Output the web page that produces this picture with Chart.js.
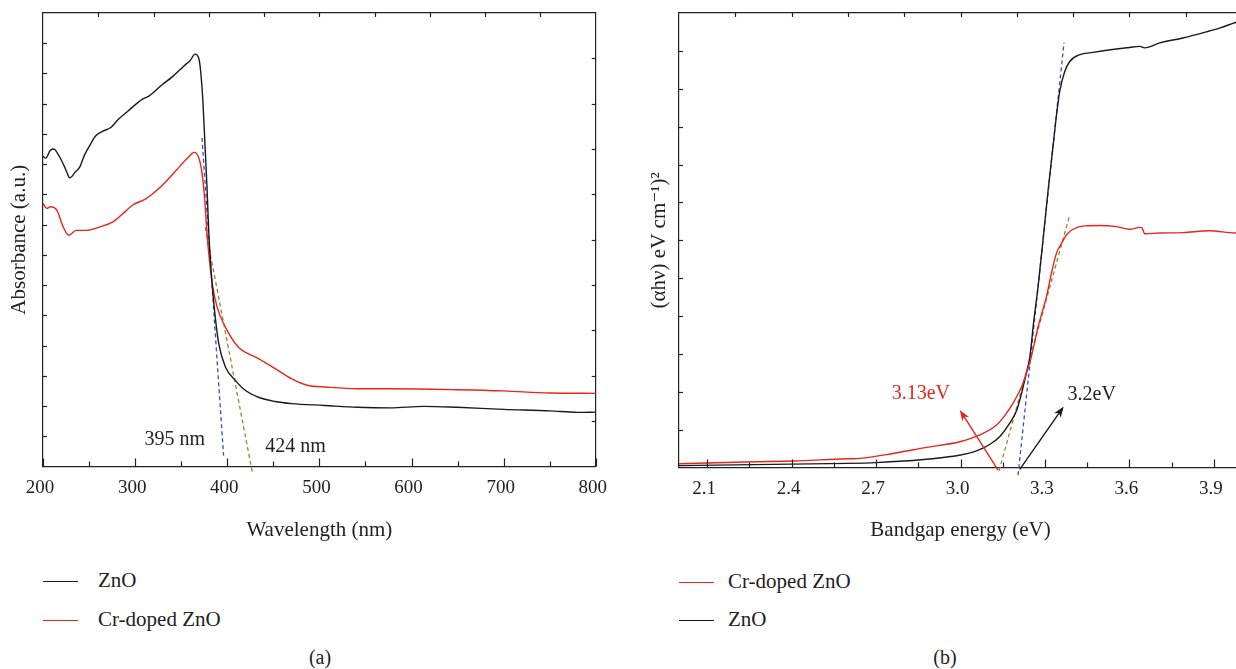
<!DOCTYPE html>
<html>
<head>
<meta charset="utf-8">
<script src="https://cdn.jsdelivr.net/npm/chart.js@4"></script>
<style>
  body { margin: 0; width: 1236px; height: 669px; overflow: hidden; background: #fff; position: relative;
         font-family: "Liberation Serif", "DejaVu Serif", serif; color: #222; }
  .panel { position: absolute; top: 0; }
  .ln { position: absolute; height: 0; width: 35px; border-top: 1.4px solid; }
  .txt { position: absolute; font-size: 21px; line-height: 24px; white-space: nowrap; }
  .cap { position: absolute; width: 40px; text-align: center; font-size: 20px; line-height: 24px; }
</style>
</head>
<body>
<div class="panel" style="left:0"><canvas id="chartA" width="620" height="547"></canvas></div>
<div class="panel" style="left:640px"><canvas id="chartB" width="622" height="547"></canvas></div>

<!-- legends -->
<div class="ln" style="left:43px; top:581px; border-color:#1a1a1a"></div>
<div class="txt" style="left:98px; top:568px">ZnO</div>
<div class="ln" style="left:43px; top:620px; border-color:#e8251b"></div>
<div class="txt" style="left:98px; top:607px">Cr-doped ZnO</div>

<div class="ln" style="left:679px; top:582px; border-color:#e8251b"></div>
<div class="txt" style="left:728px; top:569px">Cr-doped ZnO</div>
<div class="ln" style="left:679px; top:620px; border-color:#1a1a1a"></div>
<div class="txt" style="left:728px; top:607px">ZnO</div>

<div class="cap" style="left:300px; top:645px">(a)</div>
<div class="cap" style="left:925px; top:645px">(b)</div>

<script>
const FONT = '"Liberation Serif", "DejaVu Serif", serif';
const BLACK = '#1a1a1a';
const RED = '#e8251b';
const BLUE = '#3a4cc4';
const OLIVE = '#8c8a2e';

// ---- panel (a): absorbance vs wavelength ----
const wavelengthZnO = [200, 203, 208, 212, 215, 220, 225, 229, 235, 240, 245, 251, 257, 265, 274, 281, 292, 308, 315, 329, 340, 353, 360, 365, 369, 371, 373.5, 375.6, 378, 380, 383.5, 387, 390.7, 398, 408.7, 419.5, 433.8, 451.8, 469.7, 505.7, 541.6, 577, 613.4, 649, 700, 750, 780, 800];
const absZnO = [10.26, 10.20, 10.46, 10.50, 10.40, 10.13, 9.80, 9.55, 9.74, 9.91, 10.30, 10.63, 10.93, 11.09, 11.22, 11.46, 11.75, 12.15, 12.25, 12.62, 12.88, 13.25, 13.44, 13.64, 13.51, 13.11, 12.12, 10.79, 9.25, 7.72, 6.06, 4.94, 4.07, 3.29, 2.85, 2.52, 2.29, 2.15, 2.08, 2.02, 1.96, 1.94, 1.99, 1.96, 1.89, 1.84, 1.79, 1.80];
const wavelengthCr = [200, 204, 208, 215, 222, 228, 236, 247, 261, 276, 287, 297, 312, 326, 340, 348, 358, 364, 369, 372.7, 375.6, 378, 380.7, 384.3, 389, 398, 412, 434, 452, 470, 488, 506, 542, 578, 649, 700, 750, 800];
const absCr = [8.70, 8.54, 8.59, 8.48, 7.92, 7.65, 7.81, 7.81, 7.92, 8.09, 8.37, 8.64, 8.86, 9.20, 9.64, 9.91, 10.24, 10.39, 10.22, 9.69, 8.81, 7.71, 6.82, 5.94, 5.27, 4.61, 3.95, 3.57, 3.24, 2.90, 2.68, 2.63, 2.57, 2.57, 2.54, 2.50, 2.43, 2.42];
// tangent (extrapolation) lines
const fitZnOX = [372.6, 396];
const fitZnOY = [10.87, 0.36];
const fitCrX = [376, 427.4];
const fitCrY = [7.92, -0.22];

const ticksAX = [200, 300, 400, 500, 600, 700, 800];
const minorAX = [250, 350, 450, 550, 650, 750];
const ticksAY = [1, 2, 3, 4, 5, 6, 7, 8, 9, 10, 11, 12, 13, 14];
const ticksAMirror = [1, 2, 3, 4, 5, 6, 7, 8, 9];

// ---- panel (b): Tauc plot ----
const energyZnO = [2.0, 2.2, 2.4, 2.6, 2.7, 2.8, 2.9, 3.0, 3.05, 3.08, 3.11, 3.14, 3.175, 3.2, 3.217, 3.231, 3.246, 3.26, 3.276, 3.293, 3.311, 3.329, 3.341, 3.353, 3.37, 3.388, 3.424, 3.471, 3.554, 3.60, 3.637, 3.654, 3.708, 3.79, 3.873, 3.92, 3.977, 4.0];
const tauZnO = [0.05, 0.07, 0.09, 0.11, 0.13, 0.17, 0.23, 0.33, 0.42, 0.51, 0.64, 0.82, 1.17, 1.52, 1.96, 2.40, 2.90, 3.85, 4.80, 6.00, 7.30, 8.50, 9.30, 9.95, 10.45, 10.72, 10.90, 10.96, 11.05, 11.09, 11.12, 11.08, 11.21, 11.34, 11.50, 11.60, 11.75, 11.80];
const energyCr = [2.0, 2.2, 2.4, 2.5, 2.6, 2.643, 2.761, 2.879, 2.998, 3.069, 3.128, 3.163, 3.193, 3.217, 3.234, 3.249, 3.26, 3.275, 3.29, 3.305, 3.323, 3.341, 3.359, 3.376, 3.40, 3.441, 3.495, 3.554, 3.601, 3.637, 3.645, 3.654, 3.708, 3.79, 3.885, 3.977, 4.0];
const tauCr = [0.10, 0.14, 0.17, 0.20, 0.23, 0.24, 0.37, 0.53, 0.68, 0.86, 1.12, 1.43, 1.78, 2.13, 2.49, 2.84, 3.20, 3.70, 4.10, 4.50, 5.13, 5.66, 5.92, 6.14, 6.29, 6.38, 6.39, 6.36, 6.29, 6.34, 6.33, 6.17, 6.19, 6.20, 6.25, 6.19, 6.20];
const fitZnOBX = [3.2045, 3.3677];
const fitZnOBY = [-0.2, 11.22];
const fitCrBX = [3.137, 3.388];
const fitCrBY = [-0.09, 6.67];
const arrowCrX = [3.1335, 2.9975];
const arrowCrY = [-0.07, 1.52];
const arrowZnOX = [3.2105, 3.3667];
const arrowZnOY = [-0.05, 1.61];

const ticksBX = [2.1, 2.4, 2.7, 3.0, 3.3, 3.6, 3.9];
const minorBX = [2.25, 2.55, 2.85, 3.15, 3.45, 3.75];
const ticksBY = [1, 2, 3, 4, 5, 6, 7, 8, 9, 10, 11];
const ticksBTop = [2.2, 2.4, 2.6, 2.8, 3.0, 3.2, 3.4, 3.6, 3.8];

function pts(xs, ys) {
    return xs.map((x, i) => ({ x: x, y: ys[i] }));
}

function curve(label, xs, ys, color) {
    return { label: label, data: pts(xs, ys), borderColor: color, borderWidth: 1.4,
             pointRadius: 0, fill: false, cubicInterpolationMode: 'monotone' };
}

function dashed(xs, ys, color) {
    return { label: '', data: pts(xs, ys), borderColor: color, borderWidth: 1.3,
             borderDash: [4, 3], pointRadius: 0, fill: false, clip: false };
}

// inward tick marks + text notes + arrows
const decor = {
    id: 'decor',
    afterDatasetsDraw(chart, args, opts) {
        const ctx = chart.ctx;
        const a = chart.chartArea;
        ctx.save();
        ctx.strokeStyle = '#222';
        ctx.lineWidth = 1.2;
        (opts.marks || []).forEach(m => {
            const s = chart.scales[m.axis];
            m.values.forEach(v => {
                const p = Math.round(s.getPixelForValue(v)) + 0.5;
                ctx.beginPath();
                if (m.side === 'bottom') { ctx.moveTo(p, a.bottom); ctx.lineTo(p, a.bottom - m.len); }
                if (m.side === 'top') { ctx.moveTo(p, a.top); ctx.lineTo(p, a.top + m.len); }
                if (m.side === 'left') { ctx.moveTo(a.left, p); ctx.lineTo(a.left + m.len, p); }
                if (m.side === 'right') { ctx.moveTo(a.right, p); ctx.lineTo(a.right - m.len, p); }
                ctx.stroke();
            });
        });
        const xs = chart.scales.x, ys = chart.scales.y;
        (opts.arrows || []).forEach(ar => {
            const x0 = xs.getPixelForValue(ar.xs[0]), y0 = ys.getPixelForValue(ar.ys[0]);
            const x1 = xs.getPixelForValue(ar.xs[1]), y1 = ys.getPixelForValue(ar.ys[1]);
            const ang = Math.atan2(y1 - y0, x1 - x0);
            ctx.strokeStyle = ar.color;
            ctx.fillStyle = ar.color;
            ctx.lineWidth = 1.4;
            ctx.beginPath();
            ctx.moveTo(x0, y0);
            ctx.lineTo(x1 - 6 * Math.cos(ang), y1 - 6 * Math.sin(ang));
            ctx.stroke();
            ctx.beginPath();
            ctx.moveTo(x1, y1);
            ctx.lineTo(x1 - 11 * Math.cos(ang) + 4 * Math.sin(ang), y1 - 11 * Math.sin(ang) - 4 * Math.cos(ang));
            ctx.lineTo(x1 - 8 * Math.cos(ang), y1 - 8 * Math.sin(ang));
            ctx.lineTo(x1 - 11 * Math.cos(ang) - 4 * Math.sin(ang), y1 - 11 * Math.sin(ang) + 4 * Math.cos(ang));
            ctx.closePath();
            ctx.fill();
        });
        ctx.font = '20px ' + FONT;
        ctx.textAlign = 'center';
        ctx.textBaseline = 'middle';
        (opts.notes || []).forEach(n => {
            ctx.fillStyle = n.color;
            ctx.fillText(n.text, xs.getPixelForValue(n.x), ys.getPixelForValue(n.y));
        });
        ctx.restore();
    }
};

function frame(extra) {
    return Object.assign({
        ticks: { display: false },
        grid: { display: false, drawTicks: false, tickLength: 0 },
        border: { display: true, color: '#222', width: 1.2 }
    }, extra);
}

// panel (a)
new Chart(document.getElementById('chartA'), {
    type: 'line',
    data: {
        datasets: [
            curve('ZnO', wavelengthZnO, absZnO, BLACK),
            curve('Cr-doped ZnO', wavelengthCr, absCr, RED),
            dashed(fitZnOX, fitZnOY, BLUE),
            dashed(fitCrX, fitCrY, OLIVE)
        ]
    },
    options: {
        responsive: false,
        animation: false,
        layout: { padding: { left: 3, top: 13, right: 20.7, bottom: 0 } },
        plugins: {
            legend: { display: false },
            tooltip: { enabled: false },
            decor: {
                marks: [
                    { axis: 'x', side: 'bottom', values: ticksAX, len: 8 },
                    { axis: 'x', side: 'bottom', values: minorAX, len: 5 },
                    { axis: 'y', side: 'left', values: ticksAY, len: 4 },
                    { axis: 'x2', side: 'top', values: ticksAMirror, len: 4 },
                    { axis: 'y2', side: 'right', values: ticksAMirror, len: 4 }
                ],
                notes: [
                    { text: '395 nm', x: 343, y: 0.88, color: '#222' },
                    { text: '424 nm', x: 474, y: 0.65, color: '#222' }
                ]
            }
        },
        scales: {
            x: {
                type: 'linear', position: 'bottom', min: 200, max: 800,
                afterBuildTicks: s => { s.ticks = ticksAX.map(v => ({ value: v })); },
                ticks: { font: { family: FONT, size: 19 }, color: '#222', padding: 10, labelOffset: -3, maxRotation: 0, autoSkip: false },
                grid: { display: false, drawTicks: false, tickLength: 0 },
                border: { display: true, color: '#222', width: 1.2 },
                title: { display: true, text: 'Wavelength (nm)', font: { family: FONT, size: 21 }, color: '#222', padding: { top: 0, bottom: 4 } },
                afterFit: s => { s.height = 80.5; }
            },
            y: frame({
                type: 'linear', position: 'left', min: 0, max: 15,
                title: { display: true, text: 'Absorbance (a.u.)', font: { family: FONT, size: 21 }, color: '#222', padding: { top: 4, bottom: 0 } },
                afterFit: s => { s.width = 40; }
            }),
            x2: frame({ type: 'linear', position: 'top', min: 0, max: 10, afterFit: s => { s.height = 0; } }),
            y2: frame({ type: 'linear', position: 'right', min: 0, max: 10, afterFit: s => { s.width = 0; } })
        }
    },
    plugins: [decor]
});

// panel (b)
new Chart(document.getElementById('chartB'), {
    type: 'line',
    data: {
        datasets: [
            curve('Cr-doped ZnO', energyCr, tauCr, RED),
            curve('ZnO', energyZnO, tauZnO, BLACK),
            dashed(fitZnOBX, fitZnOBY, BLUE),
            dashed(fitCrBX, fitCrBY, OLIVE)
        ]
    },
    options: {
        responsive: false,
        animation: false,
        layout: { padding: { left: 3, top: 13, right: 20, bottom: 0 } },
        plugins: {
            legend: { display: false },
            tooltip: { enabled: false },
            decor: {
                marks: [
                    { axis: 'x', side: 'bottom', values: ticksBX, len: 8 },
                    { axis: 'x', side: 'bottom', values: minorBX, len: 5 },
                    { axis: 'y', side: 'left', values: ticksBY, len: 4 },
                    { axis: 'x', side: 'top', values: ticksBTop, len: 4 }
                ],
                arrows: [
                    { xs: arrowCrX, ys: arrowCrY, color: RED },
                    { xs: arrowZnOX, ys: arrowZnOY, color: BLACK }
                ],
                notes: [
                    { text: '3.13eV', x: 2.859, y: 1.94, color: RED },
                    { text: '3.2eV', x: 3.466, y: 1.92, color: '#222' }
                ]
            }
        },
        scales: {
            x: {
                type: 'linear', position: 'bottom', min: 2.0, max: 4.0,
                afterBuildTicks: s => { s.ticks = ticksBX.map(v => ({ value: v })); },
                ticks: { font: { family: FONT, size: 19 }, color: '#222', padding: 10, labelOffset: -3, maxRotation: 0, autoSkip: false,
                         callback: v => v.toFixed(1) },
                grid: { display: false, drawTicks: false, tickLength: 0 },
                border: { display: true, color: '#222', width: 1.2 },
                title: { display: true, text: 'Bandgap energy (eV)', font: { family: FONT, size: 21 }, color: '#222', padding: { top: 0, bottom: 4 } },
                afterFit: s => { s.height = 79.5; }
            },
            y: frame({
                type: 'linear', position: 'left', min: 0, max: 12,
                title: { display: true, text: '(\u03b1h\u03bd) eV cm\u207b\u00b9)\u00b2', font: { family: FONT, size: 21 }, color: '#222', padding: { top: 4, bottom: 0 } },
                afterFit: s => { s.width = 36; }
            }),
            x2: frame({ type: 'linear', position: 'top', min: 2.0, max: 4.0, afterFit: s => { s.height = 0; } }),
            y2: frame({ type: 'linear', position: 'right', min: 0, max: 12, afterFit: s => { s.width = 0; } })
        }
    },
    plugins: [decor]
});
</script>
</body>
</html>
